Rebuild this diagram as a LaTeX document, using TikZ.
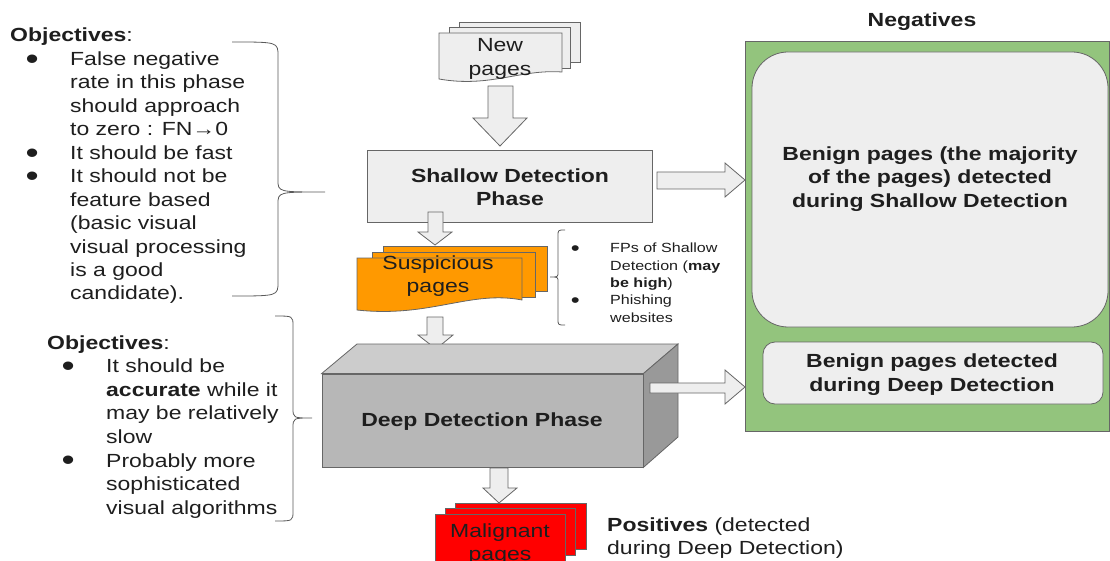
\documentclass[tikz,border=0pt]{standalone}
\usepackage{fontspec}
\setmainfont{Liberation Sans}[FakeStretch=1.21]
\definecolor{ink}{HTML}{1E1E1E}
\definecolor{lineg}{HTML}{666666}
\definecolor{bracec}{HTML}{595959}
\definecolor{lightf}{HTML}{EEEEEE}
\definecolor{orangef}{HTML}{FF9900}
\definecolor{redf}{HTML}{FF0000}
\definecolor{greenf}{HTML}{93C47D}
\definecolor{frontf}{HTML}{B7B7B7}
\definecolor{topf}{HTML}{CCCCCC}
\definecolor{sidef}{HTML}{999999}
\newcommand\bigbul{\makebox[8pt][c]{\smash{\raisebox{-3.8pt}{\fontsize{31}{0}\selectfont\textbullet}}}}
\newcommand\smbul{\makebox[6pt][c]{\smash{\raisebox{-2.6pt}{\fontsize{21}{0}\selectfont\textbullet}}}}
\begin{document}
\begin{tikzpicture}[x=1pt,y=-1pt,
  shp/.style={draw=lineg, line width=0.8pt},
  fat/.style={fill=lightf, draw=lineg, line width=0.8pt},
  bracel/.style={draw=bracec, line width=0.8pt},
  txt/.style={font=\fontsize{19}{23.4}\selectfont, text=ink, inner sep=0pt, align=center},
  btxt/.style={font=\fontsize{19}{23.4}\selectfont\bfseries, text=ink, inner sep=0pt, align=center}]
\useasboundingbox (0,0) rectangle (1110,561);
\clip (0,0) rectangle (1110,561);

% ---------- left objectives 1
\node[anchor=base west, inner sep=0pt, text=ink] (obj1) at (10,42) {\parbox[t]{320pt}{\fontsize{19}{23.45}\selectfont\raggedright
\textbf{Objectives}:\\
\hspace*{18pt}\bigbul\hspace*{34pt}False negative\\
\hspace*{60pt}rate in this phase\\
\hspace*{60pt}should approach\\
\hspace*{60pt}to zero : FN→0\\
\hspace*{18pt}\bigbul\hspace*{34pt}It should be fast\\
\hspace*{18pt}\bigbul\hspace*{34pt}It should not be\\
\hspace*{60pt}feature based\\
\hspace*{60pt}(basic visual\\
\hspace*{60pt}visual processing\\
\hspace*{60pt}is a good\\
\hspace*{60pt}candidate).}};
\draw[bracel] (232,42) .. controls (278,42) .. (278,56) -- (278,180)
  .. controls (278,192) .. (325,192) .. controls (278,192) .. (278,204)
  -- (278,282) .. controls (278,296) .. (232,296);

% ---------- left objectives 2
\node[anchor=base west, inner sep=0pt, text=ink] (obj2) at (47,349) {\parbox[t]{320pt}{\fontsize{19}{23.6}\selectfont\raggedright
\textbf{Objectives}:\\
\hspace*{17pt}\bigbul\hspace*{34pt}It should be\\
\hspace*{59pt}\textbf{accurate} while it\\
\hspace*{59pt}may be relatively\\
\hspace*{59pt}slow\\
\hspace*{17pt}\bigbul\hspace*{34pt}Probably more\\
\hspace*{59pt}sophisticated\\
\hspace*{59pt}visual algorithms}};
\draw[bracel] (275,316) .. controls (293,316) .. (293,326) -- (293,408)
  .. controls (293,418) .. (312,418) .. controls (293,418) .. (293,428)
  -- (293,511) .. controls (293,521) .. (275,521);

% ---------- New pages
\path[shp, fill=lightf] (459,22) rectangle (580,62);
\path[shp, fill=lightf] (449,27) rectangle (570,68);
\path[shp, fill=lightf] (439,33) -- (562,33) -- (562,72)
  .. controls (520,69) and (490,88) .. (439,79) -- cycle;
\node[txt] (newp) at (500,59) {New\\pages};

% arrow new -> shallow
\path[fat] (488,86) -- (513,86) -- (513,118) -- (527,118) -- (500,146) -- (473,118) -- (488,118) -- cycle;

% ---------- Shallow detection
\node[shp, fill=lightf, minimum width=285pt, minimum height=72pt, inner sep=0pt] (shallow) at (509.5,186) {};
\node[btxt] (shallowt) at (510,187.5) {Shallow Detection\\Phase};

% ---------- Suspicious pages
\path[shp, fill=orangef] (383,246) rectangle (547,291);
\path[shp, fill=orangef] (372,252) rectangle (535,297);
\path[shp, fill=orangef] (357,258) -- (522,258) -- (522,300)
  .. controls (470,290) and (430,318) .. (357,310) -- cycle;
\node[txt] (susp) at (438,276) {Suspicious\\pages};

% arrow shallow -> suspicious
\path[fat] (428,212) -- (443,212) -- (443,232) -- (452,232) -- (435,245) -- (418,232) -- (428,232) -- cycle;

% brace for suspicious
\draw[bracel] (565,230) .. controls (558,230) .. (558,236) -- (558,272)
  .. controls (558,277) .. (550,277) .. controls (558,277) .. (558,282)
  -- (558,319) .. controls (558,325) .. (565,325);
\node[anchor=base west, inner sep=0pt, text=ink] (fps) at (570,253) {\parbox[t]{200pt}{\fontsize{13.3}{17.3}\selectfont\raggedright
\hspace*{2pt}\smbul\hspace*{32pt}FPs of Shallow\\
\hspace*{40pt}Detection (\textbf{may}\\
\hspace*{40pt}\textbf{be high})\\
\hspace*{2pt}\smbul\hspace*{32pt}Phishing\\
\hspace*{40pt}websites}};

% arrow suspicious -> deep
\path[fat] (427,317) -- (443,317) -- (443,335) -- (453,335) -- (436,349) -- (418,335) -- (427,335) -- cycle;

% ---------- Deep detection cuboid
\node[shp, fill=frontf, minimum width=321pt, minimum height=93pt, inner sep=0pt] (deep) at (482.5,420.5) {};
\path[shp, fill=topf] (deep.north west) -- (357,344) -- (678,344) -- (deep.north east) -- cycle;
\path[shp, fill=sidef] (deep.north east) -- (678,344) -- (678,437) -- (deep.south east) -- cycle;
\node[btxt] (deept) at (482,421.5) {Deep Detection Phase};

% ---------- Negatives
\node[btxt] (neg) at (922,22) {Negatives};
\node[shp, fill=greenf, minimum width=364pt, minimum height=390pt, inner sep=0pt] (negbox) at (927,236) {};
\node[shp, fill=lightf, rounded corners=36pt, minimum width=356pt, minimum height=275pt, inner sep=0pt] (ben1) at (930,189.5) {};
\node[btxt] (ben1t) at (930,179) {Benign pages (the majority\\of the pages) detected\\during Shallow Detection};
\node[shp, fill=lightf, rounded corners=12pt, minimum width=340pt, minimum height=62pt, inner sep=0pt] (ben2) at (933,373) {};
\node[btxt] (ben2t) at (932,374.5) {Benign pages detected\\during Deep Detection};

% arrows to negatives
\path[fat] (657,172) -- (725,172) -- (725,163) -- (745,180) -- (725,197) -- (725,189) -- (657,189) -- cycle;
\path[fat] (650,383) -- (725,383) -- (725,370) -- (745,387) -- (725,404) -- (725,393) -- (650,393) -- cycle;

% arrow deep -> malignant
\path[fat] (490,468) -- (508,468) -- (508,488) -- (517,488) -- (499,503) -- (483,488) -- (490,488) -- cycle;

% ---------- Malignant pages
\path[shp, fill=redf] (455,503) rectangle (586,549);
\path[shp, fill=redf] (445,508) rectangle (575,555);
\path[shp, fill=redf] (435,514) rectangle (565,590);
\node[txt] (mal) at (500,544) {Malignant\\pages};

\node[anchor=west, text=ink, inner sep=0pt, align=left, font=\fontsize{19}{23.4}\selectfont] (pos) at (607,538) {\textbf{Positives} (detected\\during Deep Detection)};
\end{tikzpicture}
\end{document}
